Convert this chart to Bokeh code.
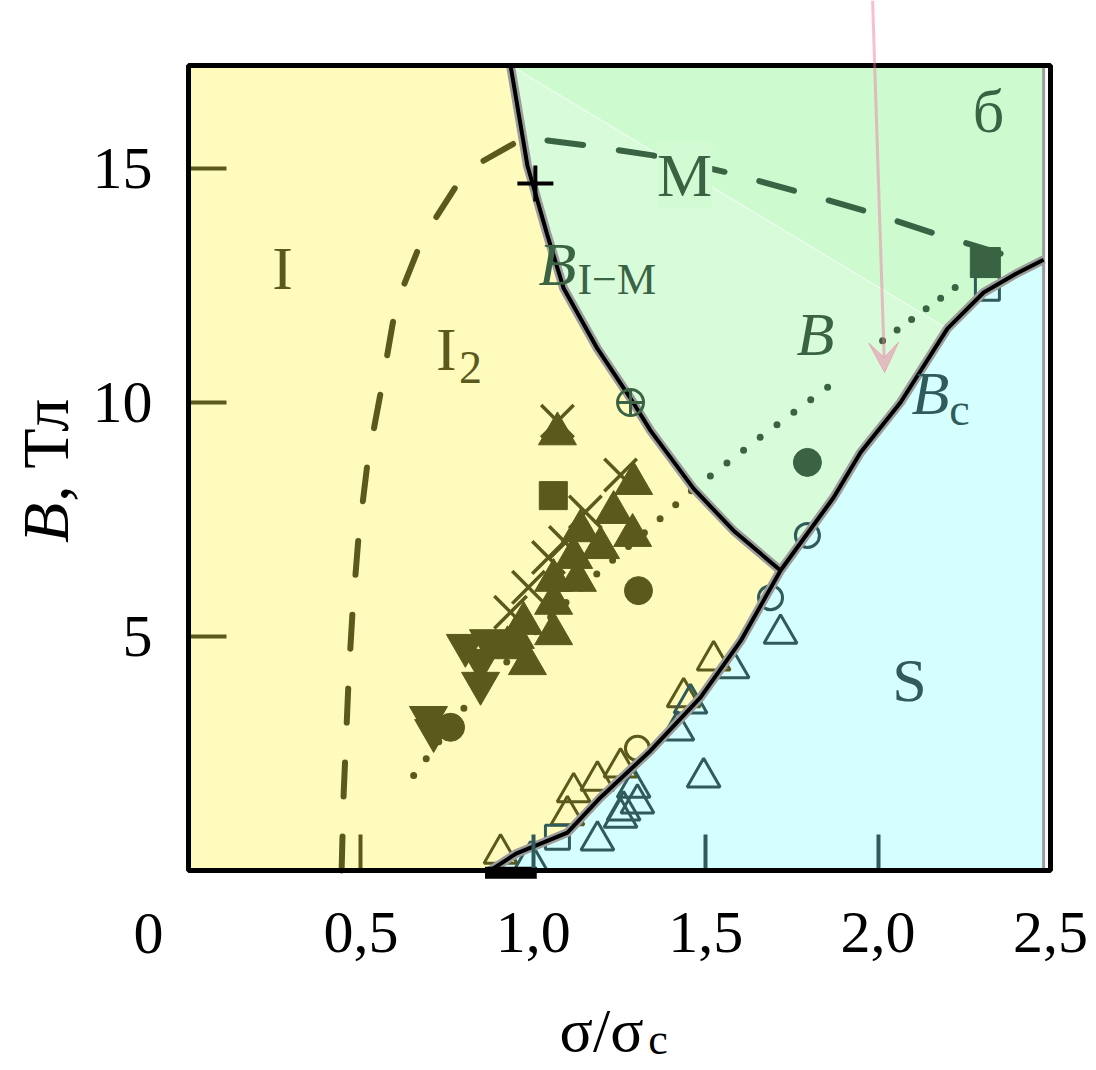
import numpy as np
from bokeh.plotting import figure
from bokeh.models import (Label, Arrow, VeeHead, FixedTicker, Range1d, CustomJSTickFormatter,
                          LinearAxis, BoxAnnotation)
from bokeh.embed import file_html
from bokeh.resources import INLINE

# ---------------- data ----------------
x_ticks_teal = [1.0, 1.5, 2.0, 2.5]
x_ticks_olive = [0.5]
y_ticks = [5, 10, 15]
X_MAX, Y_MAX = 2.5, 17.2
X_EDGE = 2.48

# I-M boundary (top -> junction)
bim_x = [0.934, 0.983, 1.041, 1.088, 1.186, 1.282, 1.340, 1.465, 1.581, 1.717]
bim_y = [17.2, 15.06, 13.57, 12.44, 11.15, 10.09, 9.40, 8.16, 7.26, 6.41]
# B_c boundary (bottom -> top right)
bc_x = [0.875, 0.95, 1.03, 1.099, 1.195, 1.340, 1.485, 1.601, 1.717, 1.795, 1.871,
        1.949, 2.065, 2.201, 2.306, 2.40, 2.48]
bc_y = [0.0, 0.36, 0.60, 0.81, 1.56, 2.56, 3.70, 4.90, 6.41, 7.20, 7.97,
        8.93, 10.0, 11.58, 12.35, 12.75, 13.05]
J = 8   # junction index in bc
K = 13  # end of lighter green zone in bc

# I2 dashed boundary
i2_x = [0.444, 0.450, 0.458, 0.465, 0.476, 0.493, 0.519, 0.557, 0.595, 0.624,
        0.667, 0.716, 0.774, 0.847, 0.943]
i2_y = [0.0, 1.64, 3.0, 4.2, 5.56, 7.12, 8.7, 10.2, 11.8, 12.5,
        13.29, 13.93, 14.6, 15.13, 15.53]
# M dashed line
m_x = [1.041, 1.159, 1.347, 1.572, 1.775, 1.978, 2.181, 2.393]
m_y = [15.6, 15.49, 15.28, 14.9, 14.49, 14.06, 13.57, 13.1]
# dotted B line
dot_olive_x = [0.653, 0.809, 1.030, 1.186, 1.346, 1.465]
dot_olive_y = [2.03, 3.57, 5.28, 6.35, 7.37, 8.16]
dot_green_x = [1.465, 1.508, 1.673, 1.891]
dot_green_y = [8.16, 8.40, 9.34, 10.53]
dot2_x = [2.013, 2.224]
dot2_y = [11.32, 12.46]

# olive filled markers
tri_x = [1.070, 1.291, 1.288, 1.233, 1.195, 1.137, 1.117, 1.128, 1.059, 1.059,
         0.972, 1.059, 0.983, 0.925, 0.948]
tri_y = [9.33, 8.27, 7.16, 7.65, 6.90, 7.26, 6.69, 6.20, 6.20, 5.71,
         5.28, 5.06, 4.42, 4.76, 4.98]
inv_x = [0.803, 0.870, 0.847, 0.847, 0.696, 0.711]
inv_y = [4.81, 4.91, 4.49, 4.00, 3.27, 2.99]
v_x = [1.070, 1.253, 1.151, 1.093, 1.044, 0.986, 0.934]
v_y = [9.60, 8.45, 7.66, 7.01, 6.69, 6.05, 5.52]
osq_x = [1.058]
osq_y = [8.01]
ocirc_x = [1.305, 0.760]
ocirc_y = [5.98, 3.06]
# olive open markers
otri_x = [0.905, 1.099, 1.117, 1.186, 1.253, 1.436, 1.523]
otri_y = [0.36, 1.18, 1.67, 1.92, 2.20, 3.70, 4.49]
ocopen_x = [1.302]
ocopen_y = [2.61]
# teal open markers
ttri_x = [1.717, 1.578, 1.456, 1.418, 1.494, 1.302, 1.262, 1.291, 1.186, 1.253, 0.992]
ttri_y = [5.06, 4.32, 3.57, 2.99, 1.99, 1.43, 1.28, 1.77, 0.64, 1.13, 0.21]
tsq_x = [1.070, 2.317]
tsq_y = [0.71, 12.44]
tcirc_x = [1.688, 1.795]
tcirc_y = [5.83, 7.16]
# dark green filled markers
gcirc_x = [1.795]
gcirc_y = [8.72]
gsq_x = [2.311]
gsq_y = [12.99]
xcirc_x = [1.282]
xcirc_y = [10.0]
plus_x = [1.006]
plus_y = [14.68]
bar_x = [0.86, 1.01]
bar_y = [-0.05, -0.05]
arrow_x = [1.984, 2.019]
arrow_y = [18.59, 10.64]

OLIVE = "#5b591b"
GREEN = "#3a6344"
TEAL = "#2f5b5b"
YELLOW = "#fffbbd"
GREEN_BG = "#cdfbcf"
GREEN_LIGHT = "#d8fbda"
CYAN = "#d5fffe"
GRAY = "#9c9c9c"
PINK = "#f0709e"
FONT = "Liberation Serif"

# view: the frame fills the canvas; the box [0,2.5]x[0,17.2] is the plotting area
X_LO, X_HI = -188 / 344.8, X_MAX + 46 / 344.8
Y_LO, Y_HI = -200 / 46.8, 870 / 46.8

p = figure(width=1096, height=1070, x_range=Range1d(X_LO, X_HI), y_range=Range1d(Y_LO, Y_HI),
           output_backend="svg", toolbar_location=None, title=None, min_border=0)
p.grid.visible = False
p.outline_line_color = None
p.background_fill_color = "white"
p.border_fill_color = "white"


def style_axis(ax, col, tin, so):
    ax.fixed_location = 0
    ax.axis_line_color = None
    ax.major_tick_in = tin
    ax.major_tick_out = 0
    ax.major_tick_line_width = 4
    ax.major_tick_line_color = col
    ax.minor_tick_line_color = None
    ax.major_label_standoff = so
    ax.major_label_text_font = FONT
    ax.major_label_text_font_size = "60px"
    ax.major_label_text_color = "black"


fmt = "return tick.toFixed(1).replace('.', ',')"
xa = p.xaxis[0]
xa.ticker = FixedTicker(ticks=x_ticks_teal)
xa.formatter = CustomJSTickFormatter(code=fmt)
style_axis(xa, TEAL, 36, 42)
xa2 = LinearAxis(ticker=FixedTicker(ticks=x_ticks_olive), formatter=CustomJSTickFormatter(code=fmt))
style_axis(xa2, OLIVE, 36, 42)
p.add_layout(xa2, "below")
ya = p.yaxis[0]
ya.ticker = FixedTicker(ticks=y_ticks)
style_axis(ya, OLIVE, 38, 36)

# regions
yel_x = [0, 0] + bim_x + bc_x[J::-1]
yel_y = [0, Y_MAX] + bim_y + bc_y[J::-1]
grn_x = bim_x + bc_x[J + 1:] + [X_EDGE]
grn_y = bim_y + bc_y[J + 1:] + [Y_MAX]
lgt_x = bim_x + bc_x[J + 1:K + 1]
lgt_y = bim_y + bc_y[J + 1:K + 1]
cyn_x = bc_x + [X_EDGE]
cyn_y = bc_y + [0]
p.patch(yel_x, yel_y, fill_color=YELLOW, line_color=GRAY, line_width=3)
p.patch(grn_x, grn_y, fill_color=GREEN_BG, line_color=GRAY, line_width=3)
p.patch(lgt_x, lgt_y, fill_color=GREEN_LIGHT, line_color="white", line_width=1, line_alpha=0.8)
p.patch(cyn_x, cyn_y, fill_color=CYAN, line_color=GRAY, line_width=3)

# dashed and dotted lines
p.line(i2_x, i2_y, line_color=OLIVE, line_width=6, line_dash="34 40", line_cap="round")
p.line(m_x, m_y, line_color=GREEN, line_width=6, line_dash="36 36", line_cap="round")
p.line(dot_olive_x, dot_olive_y, line_color=OLIVE, line_width=7, line_dash="0 21", line_cap="round")
p.line(dot_green_x, dot_green_y, line_color=GREEN, line_width=7, line_dash="0 21", line_cap="round")
p.line(dot2_x, dot2_y, line_color=GREEN, line_width=7, line_dash="0 18", line_cap="round")

# markers
p.scatter(v_x, v_y, marker="x", size=46, line_color=OLIVE, line_width=3.5)
p.scatter(tri_x, tri_y, marker="triangle", size=38, fill_color=OLIVE, line_color=OLIVE)
p.scatter(inv_x, inv_y, marker="inverted_triangle", size=38, fill_color=OLIVE, line_color=OLIVE)
p.scatter(osq_x, osq_y, marker="square", size=28, fill_color=OLIVE, line_color=OLIVE)
p.scatter(ocirc_x, ocirc_y, marker="circle", size=28, fill_color=OLIVE, line_color=OLIVE)
p.scatter(otri_x, otri_y, marker="triangle", size=33, fill_color=None, line_color=OLIVE, line_width=3)
p.scatter(ocopen_x, ocopen_y, marker="circle", size=24, fill_color=None, line_color=OLIVE, line_width=3)
p.scatter(ttri_x, ttri_y, marker="triangle", size=33, fill_color=None, line_color=TEAL, line_width=3)
p.scatter(tsq_x, tsq_y, marker="square", size=24, fill_color=None, line_color=TEAL, line_width=3)
p.scatter(tcirc_x, tcirc_y, marker="circle", size=24, fill_color=None, line_color=TEAL, line_width=3)
p.scatter(gcirc_x, gcirc_y, marker="circle", size=28, fill_color=GREEN, line_color=GREEN)
p.scatter(gsq_x, gsq_y, marker="square", size=30, fill_color=GREEN, line_color=GREEN)

# boundaries
p.line(bim_x, bim_y, line_color=GRAY, line_width=9)
p.line(bc_x, bc_y, line_color=GRAY, line_width=9)
p.line(bim_x, bim_y, line_color="black", line_width=4)
p.line(bc_x, bc_y, line_color="black", line_width=4)
p.line(bar_x, bar_y, line_color="black", line_width=12)
p.scatter(xcirc_x, xcirc_y, marker="circle_cross", size=26, fill_color=None, line_color=GREEN, line_width=3)
p.scatter(plus_x, plus_y, marker="cross", size=36, line_color="black", line_width=4)

# plotting-area box
p.add_layout(BoxAnnotation(left=0, right=X_MAX, bottom=0, top=Y_MAX, fill_color=None, fill_alpha=0,
                           line_color="black", line_alpha=1.0, line_width=5))

# arrow
p.add_layout(Arrow(end=VeeHead(size=30, fill_color=PINK, fill_alpha=0.45, line_color=PINK, line_alpha=0.45),
                   x_start=arrow_x[0], y_start=arrow_y[0], x_end=arrow_x[1], y_end=arrow_y[1],
                   line_color=PINK, line_alpha=0.45, line_width=3))


def lab(x, y, text, color, size="62px", style="normal", align="center", baseline="middle",
        angle=0.0, bg=None):
    p.add_layout(Label(x=x, y=y, text=text, text_color=color, text_font=FONT, text_font_size=size,
                       text_font_style=style, text_align=align, text_baseline=baseline, angle=angle,
                       background_fill_color=bg, padding=0))


# region labels
lab(0.273, 12.88, "I", OLIVE)
lab(0.748, 11.15, "I", OLIVE)
lab(0.818, 10.75, "2", OLIVE, size="46px")
lab(1.070, 12.97, "B", GREEN, style="italic")
lab(1.128, 12.62, "I−M", GREEN, size="44px", align="left")
lab(1.439, 14.87, "M", GREEN, bg="#d2fbd4")
lab(2.320, 16.22, "б", GREEN)
lab(1.818, 11.47, "B", GREEN, style="italic")
lab(2.152, 10.21, "B", TEAL, style="italic")
lab(2.236, 9.85, "c", TEAL, size="46px")
lab(2.091, 4.06, "S", TEAL)

# axis titles and the 0 tick label
lab(-0.116, -0.92, "0", "black", size="60px", baseline="top")
lab(1.198, -3.40, "σ/σ", "black", size="62px")
lab(1.362, -3.62, "c", "black", size="44px")
lab(-0.415, 7.00, "B", "black", size="66px", style="italic", align="left", angle=np.pi / 2)
lab(-0.415, 7.88, ", Тл", "black", size="66px", align="left", angle=np.pi / 2)

open("out.html", "w").write(file_html(p, INLINE))
